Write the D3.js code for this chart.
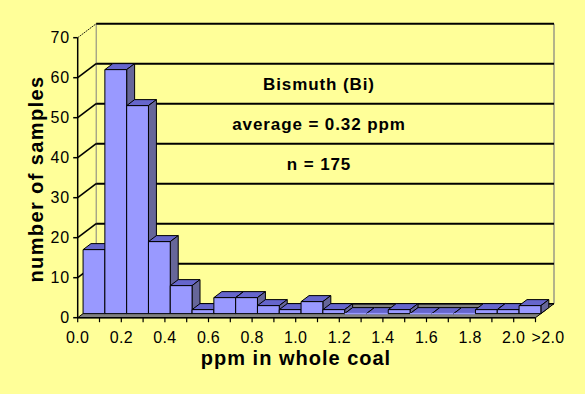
<!DOCTYPE html>
<html>
<head>
<meta charset="utf-8">
<script src="https://cdn.jsdelivr.net/npm/d3@7"></script>
<style>
  body { margin: 0; background: #ffff99; }
  text { font-family: "Liberation Sans", Arial, sans-serif; fill: #000; }
</style>
</head>
<body>
<svg id="chart" width="585" height="394"></svg>
<script>
// Data (ppm bins of 0.1, last bin is >2.0)
var binLabels = ["0.0","0.1","0.2","0.3","0.4","0.5","0.6","0.7","0.8","0.9","1.0",
                 "1.1","1.2","1.3","1.4","1.5","1.6","1.7","1.8","1.9",">2.0"];
var counts = [16, 61, 52, 18, 7, 1, 4, 4, 2, 1, 3, 1, 0, 0, 1, 0, 0, 0, 1, 1, 2];
var tickLabels = ["0.0","0.2","0.4","0.6","0.8","1.0","1.2","1.4","1.6","1.8","2.0",">2.0"];
var yTicks = [0, 10, 20, 30, 40, 50, 60, 70];
var notes = ["Bismuth (Bi)", "average = 0.32 ppm", "n = 175"];

var svg = d3.select("#chart");

// front plane scales + depth offset for the fake 3d look
var x = d3.scaleLinear().domain([0, binLabels.length]).range([77.7, 535.5]);
var y = d3.scaleLinear().domain([0, 70]).range([317.7, 37.7]);
var DX = 18.5, DY = -14;
var f1 = 0.29, f2 = 0.72; // bar front / back depth

function P(i, v, d) { return [x(i) + d * DX, y(v) + d * DY]; }
function poly(pts) { return pts.map(function (p) { return p.join(","); }).join(" "); }

svg.append("rect").attr("width", 585).attr("height", 394).attr("fill", "#ffff99");

var n = binLabels.length;

// floor
svg.append("polygon")
    .attr("points", poly([P(0, 0, 0), P(n, 0, 0), P(n, 0, 1), P(0, 0, 1)]))
    .attr("fill", "#808080")
    .attr("stroke", "#000")
    .attr("stroke-width", 1);

// back wall edges
svg.append("line")
    .attr("x1", P(0, 0, 1)[0]).attr("y1", P(0, 0, 1)[1])
    .attr("x2", P(0, 70, 1)[0]).attr("y2", P(0, 70, 1)[1])
    .attr("stroke", "#808080").attr("stroke-width", 1);
svg.append("line")
    .attr("x1", P(n, 0, 1)[0]).attr("y1", P(n, 0, 1)[1])
    .attr("x2", P(n, 70, 1)[0]).attr("y2", P(n, 70, 1)[1])
    .attr("stroke", "#808080").attr("stroke-width", 1.2);

// gridlines on back wall and side wall
yTicks.forEach(function (v) {
    if (v === 0) return;
    svg.append("line")
        .attr("x1", P(0, v, 1)[0]).attr("y1", P(0, v, 1)[1])
        .attr("x2", P(n, v, 1)[0]).attr("y2", P(n, v, 1)[1])
        .attr("stroke", "#000").attr("stroke-width", 2);
    svg.append("line")
        .attr("x1", P(0, v, 0)[0]).attr("y1", P(0, v, 0)[1])
        .attr("x2", P(0, v, 1)[0]).attr("y2", P(0, v, 1)[1])
        .attr("stroke", "#000").attr("stroke-width", v === 70 ? 1 : 1.6)
        .attr("stroke-dasharray", v === 70 ? "1.5,1" : null);
});
svg.append("line")
    .attr("x1", P(0, 0, 1)[0]).attr("y1", P(0, 0, 1)[1])
    .attr("x2", P(n, 0, 1)[0]).attr("y2", P(n, 0, 1)[1])
    .attr("stroke", "#000").attr("stroke-width", 1.5);

// notes on the wall
notes.forEach(function (t, k) {
    svg.append("text")
        .attr("x", 319)
        .attr("y", P(0, 55 - k * 10, 1)[1])
        .attr("dy", "0.36em")
        .attr("text-anchor", "middle")
        .style("font-size", "17px")
        .style("font-weight", "bold")
        .style("letter-spacing", "0.9px")
        .text(t);
});

// bars, left to right so the next front face hides the previous side
var bars = svg.append("g");
counts.forEach(function (c, i) {
    var g = bars.append("g");
    // top
    g.append("polygon")
        .attr("points", poly([P(i, c, f1), P(i + 1, c, f1), P(i + 1, c, f2), P(i, c, f2)]))
        .attr("fill", "#6666cc").attr("stroke", "#000").attr("stroke-width", 1)
        .attr("stroke-linejoin", "round");
    if (c > 0) {
        // side
        g.append("polygon")
            .attr("points", poly([P(i + 1, 0, f1), P(i + 1, 0, f2), P(i + 1, c, f2), P(i + 1, c, f1)]))
            .attr("fill", "#666699").attr("stroke", "#000").attr("stroke-width", 1)
            .attr("stroke-linejoin", "round");
        // front
        g.append("polygon")
            .attr("points", poly([P(i, 0, f1), P(i + 1, 0, f1), P(i + 1, c, f1), P(i, c, f1)]))
            .attr("fill", "#9999ff").attr("stroke", "#000").attr("stroke-width", 1)
            .attr("stroke-linejoin", "round");
    } else {
        g.append("line")
            .attr("x1", P(i, 0, f1)[0]).attr("y1", P(i, 0, f1)[1])
            .attr("x2", P(i + 1, 0, f1)[0]).attr("y2", P(i + 1, 0, f1)[1])
            .attr("stroke", "#9999ff").attr("stroke-width", 1.5);
    }
});

// y axis (front)
svg.append("line")
    .attr("x1", x(0)).attr("y1", y(0)).attr("x2", x(0)).attr("y2", y(70))
    .attr("stroke", "#000").attr("stroke-width", 1.5);
yTicks.forEach(function (v) {
    svg.append("line")
        .attr("x1", x(0) - 4.5).attr("x2", x(0)).attr("y1", y(v)).attr("y2", y(v))
        .attr("stroke", "#000").attr("stroke-width", 1.5);
    svg.append("text")
        .attr("x", 70).attr("y", y(v)).attr("dy", "0.36em")
        .attr("text-anchor", "end")
        .style("font-size", "16px")
        .style("letter-spacing", "0.8px")
        .text(v);
});

// x axis (front)
svg.append("line")
    .attr("x1", x(0)).attr("y1", y(0)).attr("x2", x(n)).attr("y2", y(0))
    .attr("stroke", "#000").attr("stroke-width", 1.5);
d3.range(n + 1).forEach(function (i) {
    svg.append("line")
        .attr("x1", x(i)).attr("x2", x(i)).attr("y1", y(0)).attr("y2", y(0) + 4.5)
        .attr("stroke", "#000").attr("stroke-width", 1.2);
});
tickLabels.forEach(function (t, k) {
    var pos = k < tickLabels.length - 1 ? k * 2 : n;
    svg.append("text")
        .attr("x", x(pos) + (k < tickLabels.length - 1 ? 0 : 12.5))
        .attr("y", 337).attr("dy", "0.36em")
        .attr("text-anchor", "middle")
        .style("font-size", "16px")
        .style("letter-spacing", "0.3px")
        .text(t);
});

// axis titles
svg.append("text")
    .attr("x", 296).attr("y", 365)
    .attr("text-anchor", "middle")
    .style("font-size", "20px")
    .style("font-weight", "bold")
    .style("letter-spacing", "1px")
    .text("ppm in whole coal");

svg.append("text")
    .attr("transform", "translate(43,179) rotate(-90)")
    .attr("text-anchor", "middle")
    .style("font-size", "20px")
    .style("font-weight", "bold")
    .style("letter-spacing", "1.4px")
    .text("number of samples");
</script>
</body>
</html>
